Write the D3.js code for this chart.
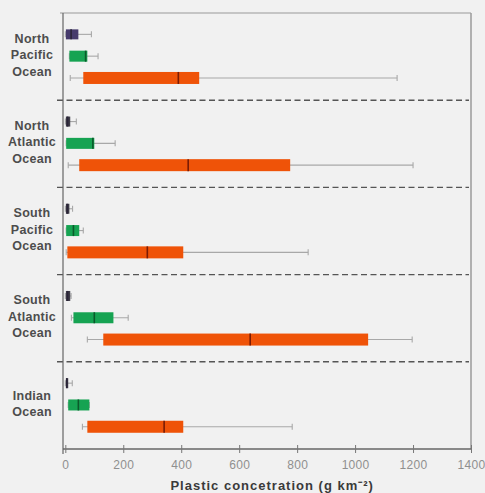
<!DOCTYPE html>
<html>
<head>
<meta charset="utf-8">
<script src="https://cdn.jsdelivr.net/npm/d3@7"></script>
<style>
  html, body { margin: 0; padding: 0; background: #f1f1f1; }
  svg { display: block; }
</style>
</head>
<body>
<svg id="chart" width="485" height="493"></svg>
<script>
// Ocean basins, top to bottom
const oceans = ["North Pacific Ocean", "North Atlantic Ocean", "South Pacific Ocean", "South Atlantic Ocean", "Indian Ocean"];
const oceanLabels = [["North", "Pacific", "Ocean"], ["North", "Atlantic", "Ocean"], ["South", "Pacific", "Ocean"], ["South", "Atlantic", "Ocean"], ["Indian", "Ocean"]];

// Size classes drawn per ocean (one box each)
const sizeClasses = ["small", "medium", "large"];

// Box statistics per ocean: [whisker min, q1, median, q3, whisker max]
const smallStats = [
  [0, 2, 20, 45, 90],
  [0, 2, 8, 17, 38],
  [0, 2, 7, 14, 25],
  [0, 2, 8, 17, 20],
  [0, 2, 5, 10, 24]
];
const mediumStats = [
  [14, 14, 70, 76, 113],
  [3, 3, 95, 100, 172],
  [3, 3, 28, 48, 62],
  [21, 28, 100, 166, 217],
  [10, 10, 45, 83, 83]
];
const largeStats = [
  [17, 62, 390, 462, 1145],
  [10, 48, 424, 776, 1200],
  [3, 7, 283, 407, 838],
  [76, 131, 638, 1045, 1197],
  [59, 76, 341, 407, 783]
];

const xTicks = [0, 200, 400, 600, 800, 1000, 1200, 1400];
const xTitle = "Plastic concetration (g km⁻²)";

const smallColors = ["#463a6c", "#3f3d48", "#3f3d48", "#3f3d48", "#3f3d48"];
const classColor = { medium: "#16a352", large: "#ef5308" };
const medianColor = { small: "#2a2438", medium: "#0a5a2a", large: "#7a1c05" };
const boxHeight = { small: 10, medium: 11, large: 12 };

const font = "Arial, 'Liberation Sans', sans-serif";
const svg = d3.select("#chart");
const plot = { left: 63, right: 471, top: 13, bottom: 449 };

const x = d3.scaleLinear().domain([-8, 1400]).range([plot.left, plot.right]);

// Each ocean gets an equal horizontal section
const section = d3.scaleBand().domain(oceans).range([plot.top, plot.bottom]).paddingInner(0).paddingOuter(0);
const h = section.bandwidth();
const row = d3.scalePoint().domain(sizeClasses).range([h * 0.245, h * 0.745]);

// Frame: top and right borders
svg.append("line").attr("x1", plot.left - 3).attr("x2", plot.right).attr("y1", plot.top).attr("y2", plot.top)
  .attr("stroke", "#9a9a9a").attr("stroke-width", 1.2);
svg.append("line").attr("x1", plot.right).attr("x2", plot.right).attr("y1", plot.top).attr("y2", plot.bottom)
  .attr("stroke", "#9a9a9a").attr("stroke-width", 1.5);

// Dashed separators between oceans
oceans.slice(1).forEach(o => {
  svg.append("line")
    .attr("x1", plot.left - 6).attr("x2", plot.right - 2)
    .attr("y1", section(o)).attr("y2", section(o))
    .attr("stroke", "#555").attr("stroke-width", 1.4)
    .attr("stroke-dasharray", "6,3.5");
});

// Left axis line
svg.append("line").attr("x1", plot.left).attr("x2", plot.left).attr("y1", plot.top).attr("y2", plot.bottom + 5)
  .attr("stroke", "#666").attr("stroke-width", 1.2);

// Bottom axis
const xAxis = d3.axisBottom(x).tickValues(xTicks).tickSize(4).tickSizeOuter(0).tickFormat(d3.format("d"));
const gx = svg.append("g").attr("transform", `translate(0,${plot.bottom})`).call(xAxis);
gx.select(".domain").attr("stroke", "#666").attr("stroke-width", 1.4)
  .attr("d", `M${plot.left},0H${plot.right}`);
gx.selectAll(".tick line").attr("stroke", "#777").attr("y1", -4).attr("y2", 4);
gx.selectAll(".tick text").attr("fill", "#8f8f8f").attr("font-family", font)
  .attr("font-size", 12).attr("letter-spacing", 0.3).attr("dy", "0.95em").attr("y", 9);

svg.append("text")
  .attr("x", (x(0) + x(1400)) / 2 + 4).attr("y", 490)
  .attr("text-anchor", "middle")
  .attr("font-family", font)
  .attr("font-size", 13).attr("letter-spacing", 1).attr("font-weight", "bold").attr("fill", "#3a3a3a")
  .text(xTitle);

// Ocean labels
oceans.forEach((o, i) => {
  const lines = oceanLabels[i];
  const cy = section(o) + h / 2 - 2;
  const lh = 16.5;
  const t = svg.append("text")
    .attr("text-anchor", "middle")
    .attr("font-family", font)
    .attr("font-size", 12.5).attr("letter-spacing", 0.3).attr("font-weight", "bold").attr("fill", "#4d4d4d");
  lines.forEach((l, j) => {
    t.append("tspan").attr("x", 32)
      .attr("y", cy + (j - (lines.length - 1) / 2) * lh + 4.5)
      .text(l);
  });
});

// Box plots
const allStats = { small: smallStats, medium: mediumStats, large: largeStats };
oceans.forEach((o, i) => {
  sizeClasses.forEach(c => {
    const [lo, q1, med, q3, hi] = allStats[c][i];
    const cy = section(o) + row(c);
    const bh = boxHeight[c];
    const fill = c === "small" ? smallColors[i] : classColor[c];
    const g = svg.append("g");
    // whisker
    g.append("line").attr("x1", x(lo)).attr("x2", x(hi)).attr("y1", cy).attr("y2", cy)
      .attr("stroke", "#a8a8a8").attr("stroke-width", 1.1);
    [lo, hi].forEach(v => {
      g.append("line").attr("x1", x(v)).attr("x2", x(v)).attr("y1", cy - 3).attr("y2", cy + 3)
        .attr("stroke", "#a8a8a8").attr("stroke-width", 1.1);
    });
    // box
    g.append("rect").attr("x", x(q1)).attr("y", cy - bh / 2)
      .attr("width", Math.max(1, x(q3) - x(q1))).attr("height", bh)
      .attr("fill", fill);
    // median
    g.append("line").attr("x1", x(med)).attr("x2", x(med)).attr("y1", cy - bh / 2).attr("y2", cy + bh / 2)
      .attr("stroke", medianColor[c]).attr("stroke-width", 1.6);
  });
});
</script>
</body>
</html>
